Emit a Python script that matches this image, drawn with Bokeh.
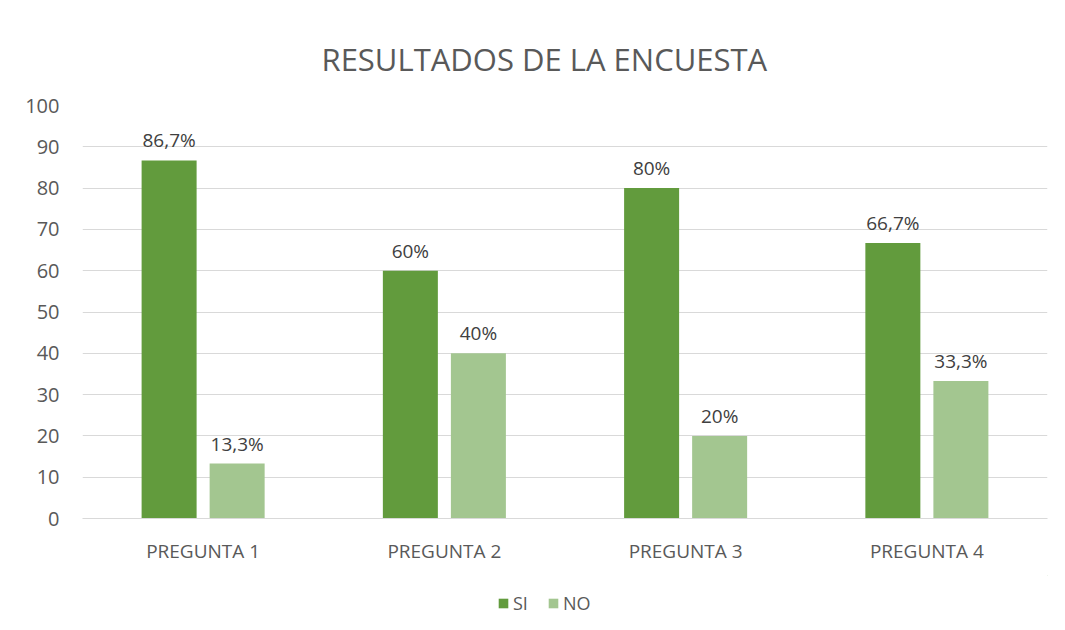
from bokeh.plotting import figure
from bokeh.layouts import column
from bokeh.core.properties import value
from bokeh.models import ColumnDataSource, FixedTicker, Legend, LegendItem, LabelSet
from bokeh.transform import dodge
from bokeh.embed import file_html
from bokeh.resources import INLINE

preguntas = ["PREGUNTA 1", "PREGUNTA 2", "PREGUNTA 3", "PREGUNTA 4"]
si = [86.7, 60, 80, 66.7]
no = [13.3, 40, 20, 33.3]
si_labels = ["86,7%", "60%", "80%", "66,7%"]
no_labels = ["13,3%", "40%", "20%", "33,3%"]
series = ["SI", "NO"]

FONT = "Open Sans"
TXT = "#595959"
C_SI = "#629b3d"
C_NO = "#a3c690"

src = ColumnDataSource(dict(p=preguntas, si=si, no=no, sil=si_labels, nol=no_labels))

p = figure(x_range=preguntas, y_range=(0, 100), width=1065, height=575,
           output_backend="svg", toolbar_location=None,
           min_border_left=82, min_border_right=18, min_border_top=105, min_border_bottom=57)

p.vbar(x=dodge("p", -0.141, range=p.x_range), top="si", width=0.228, source=src,
       color=C_SI, line_color=None)
p.vbar(x=dodge("p", 0.141, range=p.x_range), top="no", width=0.228, source=src,
       color=C_NO, line_color=None)

p.add_layout(LabelSet(x=dodge("p", -0.141, range=p.x_range), y="si", text="sil", source=src,
                      text_align="center", text_baseline="alphabetic", y_offset=13,
                      text_font=value(FONT), text_font_size="19px", text_color="#404040"))
p.add_layout(LabelSet(x=dodge("p", 0.141, range=p.x_range), y="no", text="nol", source=src,
                      text_align="center", text_baseline="alphabetic", y_offset=13,
                      text_font=value(FONT), text_font_size="19px", text_color="#404040"))

p.title.text = "RESULTADOS DE LA ENCUESTA"
p.title.align = "left"
p.title.offset = 239
p.title.text_font = FONT
p.title.text_font_size = "31px"
p.title.text_font_style = "normal"
p.title.text_color = TXT
p.title.standoff = 51

p.yaxis.ticker = FixedTicker(ticks=list(range(0, 101, 10)))
p.yaxis.axis_line_color = None
p.yaxis.major_tick_line_color = None
p.yaxis.minor_tick_line_color = None
p.yaxis.major_label_text_font = FONT
p.yaxis.major_label_text_font_size = "20px"
p.yaxis.major_label_text_color = TXT
p.yaxis.major_label_standoff = 17

p.xaxis.axis_line_color = "#d9d9d9"
p.xaxis.major_tick_line_color = None
p.xaxis.minor_tick_line_color = None
p.xaxis.major_label_text_font = FONT
p.xaxis.major_label_text_font_size = "19px"
p.xaxis.major_label_text_color = TXT
p.xaxis.major_label_standoff = 13

p.xgrid.grid_line_color = None
p.ygrid.grid_line_color = "#d9d9d9"
p.ygrid.grid_line_width = 1
p.outline_line_color = None

# legend in its own strip below the chart
lg = figure(width=1065, height=55, x_range=(0, 1), y_range=(0, 1),
            output_backend="svg", toolbar_location=None,
            min_border_left=0, min_border_right=0, min_border_top=0, min_border_bottom=0)
lg.axis.visible = False
lg.grid.visible = False
lg.outline_line_color = None
g1 = lg.vbar(x=[5], top=[5], bottom=[4], width=0.1, color=C_SI, line_color=None)
g2 = lg.vbar(x=[5], top=[5], bottom=[4], width=0.1, color=C_NO, line_color=None)
legend = Legend(items=[LegendItem(label=series[0], renderers=[g1]),
                       LegendItem(label=series[1], renderers=[g2])],
                orientation="horizontal", location=(415, 15),
                label_text_font=FONT, label_text_font_size="18px", label_text_color=TXT,
                glyph_width=12, glyph_height=12, spacing=14, label_standoff=4,
                border_line_color=None, background_fill_alpha=0, padding=0, margin=0)
lg.add_layout(legend, "center")

open("out.html", "w").write(file_html(column(p, lg, spacing=0), INLINE))
